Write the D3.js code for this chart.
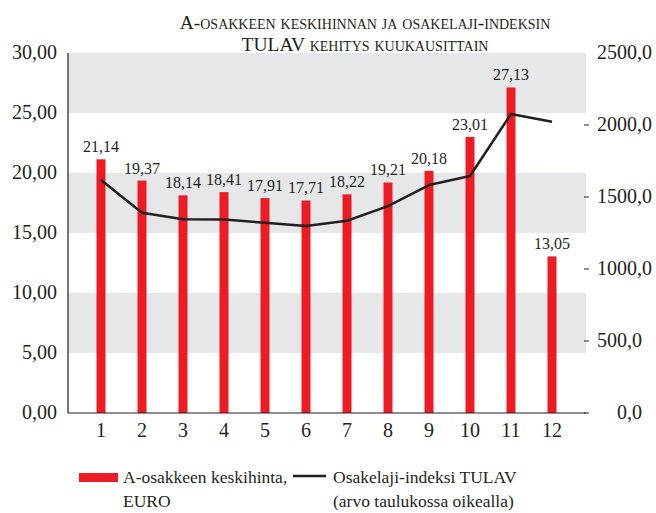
<!DOCTYPE html>
<html>
  <head>
    <meta charset="utf-8">
    <script src="https://d3js.org/d3.v7.min.js"></script>
    <style>
      body { margin: 0; background: #fff; }
      svg text { font-family: "Liberation Serif", "DejaVu Serif", serif; fill: #231f20; }
    </style>
  </head>
  <body>
    <svg width="656" height="513"></svg>
    <script>
      // data
      var months = ["1", "2", "3", "4", "5", "6", "7", "8", "9", "10", "11", "12"];
      var price = [21.14, 19.37, 18.14, 18.41, 17.91, 17.71, 18.22, 19.21, 20.18, 23.01, 27.13, 13.05];
      var tulav = [1618, 1391, 1345, 1343, 1321, 1299, 1335, 1437, 1583, 1646, 2076, 2023];
      var leftTicks = [0, 5, 10, 15, 20, 25, 30];
      var rightTicks = [0, 500, 1000, 1500, 2000, 2500];
      var bands = [[5, 10], [15, 20], [25, 30]];

      var pLeft = 68, pRight = 586, pTop = 53, pBottom = 413;
      var svg = d3.select("svg");
      var fmt2 = function(v) { return v.toFixed(2).replace(".", ","); };
      var fmt1 = function(v) { return v.toFixed(1).replace(".", ","); };

      var x = d3.scaleBand().domain(months).range([80.5, 572.5]);
      var y = d3.scaleLinear().domain([0, 30]).range([pBottom, pTop]);
      var y2 = d3.scaleLinear().domain([0, 2500]).range([pBottom, pTop]);
      var cx = function(i) { return x(months[i]) + x.bandwidth() / 2; };

      // grey bands
      svg.selectAll("rect.band").data(bands).enter().append("rect")
        .attr("class", "band")
        .attr("x", pLeft).attr("width", pRight - pLeft)
        .attr("y", function(d) { return y(d[1]); })
        .attr("height", function(d) { return y(d[0]) - y(d[1]); })
        .attr("fill", "#e6e7e8");

      // bars
      svg.selectAll("rect.bar").data(price).enter().append("rect")
        .attr("class", "bar")
        .attr("x", function(d, i) { return cx(i) - 4.5; })
        .attr("width", 9)
        .attr("y", function(d) { return y(d); })
        .attr("height", function(d) { return pBottom - y(d); })
        .attr("fill", "#ed1c24");

      svg.selectAll("text.val").data(price).enter().append("text")
        .attr("class", "val")
        .attr("x", function(d, i) { return cx(i); })
        .attr("y", function(d) { return y(d) - 7; })
        .attr("text-anchor", "middle")
        .style("font-size", "16px")
        .text(fmt2);

      // index line
      var line = d3.line()
        .x(function(d, i) { return cx(i); })
        .y(function(d) { return y2(d); });
      svg.append("path").datum(tulav)
        .attr("d", line)
        .attr("fill", "none")
        .attr("stroke", "#231f20")
        .attr("stroke-width", 2.5)
        .attr("stroke-linejoin", "round");

      // axis lines
      svg.append("line").attr("x1", pLeft).attr("x2", pLeft).attr("y1", pTop).attr("y2", pBottom)
        .attr("stroke", "#231f20").attr("stroke-width", 1.2);
      svg.append("line").attr("x1", pLeft).attr("x2", pRight).attr("y1", pBottom).attr("y2", pBottom)
        .attr("stroke", "#231f20").attr("stroke-width", 1.2);

      // left labels
      svg.selectAll("text.yl").data(leftTicks).enter().append("text")
        .attr("class", "yl")
        .attr("x", 57).attr("y", function(d) { return y(d) + 6; })
        .attr("text-anchor", "end")
        .style("font-size", "20px")
        .text(fmt2);

      // right labels with small tick marks
      svg.selectAll("line.rt").data(rightTicks.filter(function(d) { return d < 2500; })).enter().append("line")
        .attr("class", "rt")
        .attr("x1", 584).attr("x2", 589)
        .attr("y1", function(d) { return y2(d); }).attr("y2", function(d) { return y2(d); })
        .attr("stroke", "#231f20").attr("stroke-width", 1);
      svg.selectAll("text.yr").data(rightTicks).enter().append("text")
        .attr("class", "yr")
        .attr("x", function(d) { return d === 0 ? 617 : 597; })
        .attr("y", function(d) { return y2(d) + 6; })
        .attr("text-anchor", "start")
        .style("font-size", "20px")
        .text(fmt1);

      // x labels
      svg.selectAll("text.xl").data(months).enter().append("text")
        .attr("class", "xl")
        .attr("x", function(d) { return x(d) + x.bandwidth() / 2; })
        .attr("y", 437)
        .attr("text-anchor", "middle")
        .style("font-size", "20px")
        .text(function(d) { return d; });

      // title
      var title = svg.append("text").attr("text-anchor", "middle")
        .style("font-size", "19.5px").style("font-variant", "small-caps");
      title.append("tspan").attr("x", 365).attr("y", 29).text("A-osakkeen keskihinnan ja osakelaji-indeksin");
      title.append("tspan").attr("x", 365).attr("y", 51).text("TULAV kehitys kuukausittain");

      // legend
      svg.append("rect").attr("x", 79).attr("y", 473).attr("width", 39).attr("height", 9).attr("fill", "#ed1c24");
      var l1 = svg.append("text").style("font-size", "17.5px");
      l1.append("tspan").attr("x", 123).attr("y", 483).text("A-osakkeen keskihinta,");
      l1.append("tspan").attr("x", 123).attr("y", 507).text("EURO");
      svg.append("line").attr("x1", 293).attr("x2", 326).attr("y1", 476).attr("y2", 476)
        .attr("stroke", "#231f20").attr("stroke-width", 2.5);
      var l2 = svg.append("text").style("font-size", "17.5px");
      l2.append("tspan").attr("x", 333).attr("y", 483).text("Osakelaji-indeksi TULAV");
      l2.append("tspan").attr("x", 333).attr("y", 507).text("(arvo taulukossa oikealla)");
    </script>
  </body>
</html>
